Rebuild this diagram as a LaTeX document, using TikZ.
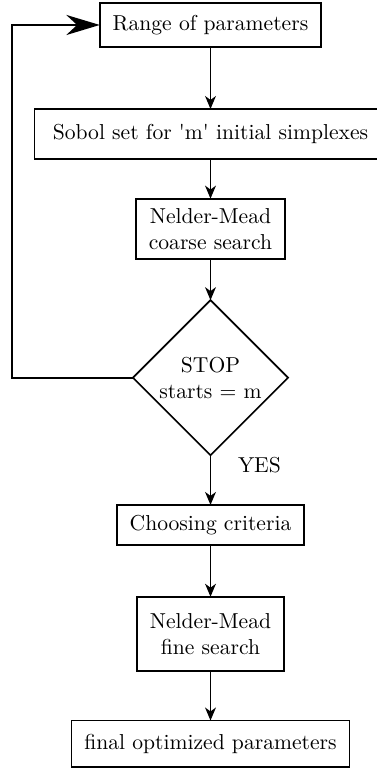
\documentclass[tikz,border=0pt]{standalone}
\usetikzlibrary{positioning, arrows.meta, shapes.geometric}

\begin{document}
\begin{tikzpicture}[every node/.style={align=center},
  block/.style={draw, thick, inner xsep=6pt, outer sep=0pt},
  flow/.style={thick, -{Stealth[length=6pt, width=5pt, inset=1.8pt]}}]
\useasboundingbox (0,0) rectangle (174.5pt,-357.4pt);
\node[block, minimum height=20.4pt] (range) at (97.45pt,-11.57pt) {Range of parameters};
\node[block, minimum height=23pt, inner xsep=8.5pt, below=28.7pt of range] (sobol) {Sobol set for \textquotesingle{}m\textquotesingle{} initial simplexes};
\node[block, minimum height=28pt, below=18.5pt of sobol] (coarse) {Nelder-Mead\\coarse search};
\node[draw, thick, diamond, aspect=1, minimum width=71.8pt, minimum height=71.8pt, inner sep=0pt, outer sep=0pt, below=19pt of coarse] (stop) {STOP\\starts = m};
\node[block, minimum height=18.5pt, below=23pt of stop] (criteria) {Choosing criteria};
\node[block, minimum height=34.3pt, below=24pt of criteria] (fine) {Nelder-Mead\\fine search};
\node[block, minimum height=21.6pt, below=23pt of fine] (final) {final optimized parameters};
\draw[flow] (range) -- (sobol);
\draw[flow] (sobol) -- (coarse);
\draw[flow] (coarse) -- (stop);
\draw[flow] (stop) -- node[pos=0.2, right=9pt] (yes) {YES} (criteria);
\draw[flow] (criteria) -- (fine);
\draw[flow] (fine) -- (final);
% back to the start
\draw[thick, -{Stealth[length=15.5pt, width=9.3pt, inset=5pt]}] (stop.west) -- ++(-56pt,0) |- (range.west);
\end{tikzpicture}
\end{document}
